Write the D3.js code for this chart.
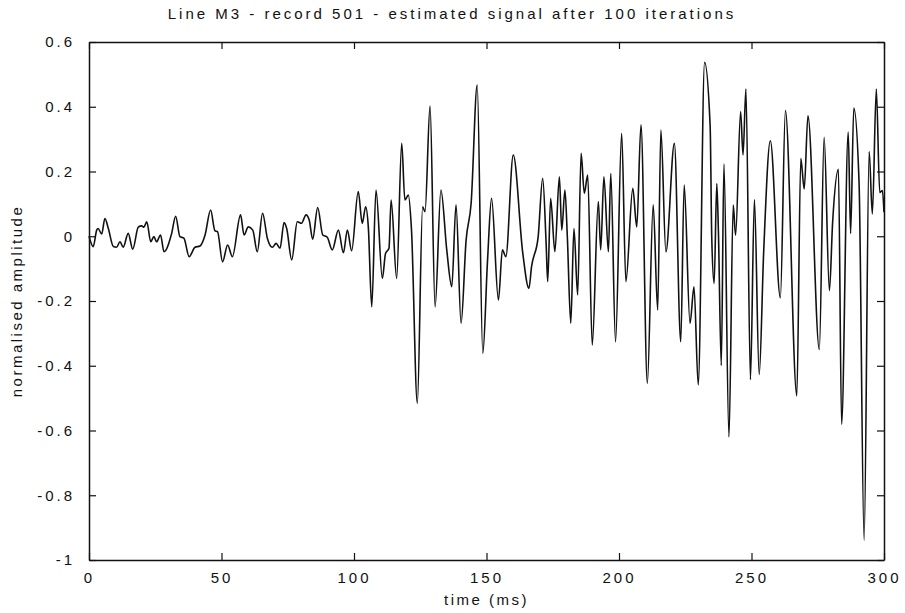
<!DOCTYPE html>
<html>
<head>
<meta charset="utf-8">
<script src="https://cdn.jsdelivr.net/npm/d3@7"></script>
<style>
  body { margin: 0; background: #fff; }
  svg text { font-family: Arial, "Liberation Sans", sans-serif; fill: #111; }
</style>
</head>
<body>
<script>
// signal, time in ms
const time = [
  0, 1.6, 2.9, 3.4, 4.8, 6.0, 7.3, 9.2, 10.4, 11.7, 12.9, 14.8, 16.5, 18.6, 19.9, 20.7,
  21.8, 23.3, 24.5, 25.5, 27.0, 28.3, 31.2, 32.7, 34.3, 35.8, 37.8, 40.0, 41.9, 43.8,
  45.9, 47.5, 48.5, 50.4, 52.3, 54.1, 57.2, 58.5, 60.1, 61.8, 63.5, 65.5, 67.3, 69.2,
  70.6, 72.1, 73.6, 74.6, 76.5, 78.6, 80.2, 81.9, 83.1, 84.4, 86.3, 88.2, 89.9, 91.8,
  94.1, 96.0, 97.5, 99.1,
  101.6, 103.1, 104.4, 105.4, 106.7, 108.3, 110.7, 111.9, 113.2, 114.0, 116.1, 118.0,
  119.2, 120.5, 121.7, 123.9, 125.9, 126.8, 128.7, 130.6, 132.8, 135.0, 136.9, 138.5,
  140.4, 142.3, 144.2, 146.5, 148.6, 150.4, 151.9, 154.5, 156.0, 157.3, 160.1, 163.7,
  166.0, 167.0, 169.5, 171.2, 172.5, 173.1, 174.2, 175.8, 177.5, 178.4, 179.6, 180.5,
  181.8, 183.0, 184.4, 185.7, 186.9, 188.2, 189.9, 192.2, 193.1, 194.3, 196.0, 196.9,
  198.7, 201.0, 202.6, 205.2, 206.7, 208.3, 210.7, 212.9, 214.6, 215.8, 217.7, 220.9,
  223.3, 224.6, 226.8, 228.3, 229.9, 232.3, 234.4, 235.0, 235.9,
  236.9, 237.5, 238.6, 239.6, 241.5, 243.1, 244.0, 245.9, 246.8, 247.9, 249.6, 251.1,
  252.9, 254.6, 257.1, 260.9, 262.8, 267.1, 268.6, 269.9, 271.3, 275.6, 277.4, 279.4,
  280.6, 282.8, 284.0, 286.5, 287.4, 288.6, 290.6, 292.5, 294.4, 295.6, 297.1, 298.4,
  299.4, 300.0
]
const amplitude = [
  0, -0.032, 0.019, 0.024, 0.007, 0.055, 0.024, -0.032, -0.034, -0.017, -0.034, 0.009, -0.040, 0.028, 0.032, 0.028,
  0.045, -0.017, -0.001, -0.017, 0.004, -0.048, 0.009, 0.062, -0.001, -0.006, -0.063, -0.034, -0.030, 0.004,
  0.081, 0.017, 0.014, -0.079, -0.027, -0.063, 0.066, 0.004, 0.029, 0.019, -0.048, 0.071, -0.006, -0.034,
  -0.022, -0.037, 0.042, 0.024, -0.073, 0.045, 0.040, 0.066, 0.050, -0.009, 0.089, 0.004, -0.003, -0.042,
  0.019, -0.051, 0.019, -0.045,
  0.138, 0.040, 0.091, 0.029, -0.218, 0.143, -0.130, -0.053, -0.037, 0.112, -0.130, 0.287,
  0.112, 0.127, 0.019, -0.516, 0.091, 0.076, 0.402, -0.218, 0.143, -0.042, -0.156, 0.097,
  -0.269, -0.012, 0.102, 0.467, -0.362, -0.073, 0.117, -0.197, -0.042, -0.063, 0.251, -0.053,
  -0.161, -0.094, -0.001, 0.179, -0.022, -0.140, 0.117, -0.048, 0.184, 0.019, 0.143, -0.001,
  -0.269, 0.024, -0.181, 0.256, 0.133, 0.189, -0.336, 0.107, -0.042, 0.184, -0.048, 0.194,
  -0.326, 0.318, -0.140, 0.148, 0.029, 0.344, -0.454, 0.097, -0.228, 0.328, -0.048, 0.287,
  -0.326, 0.158, -0.269, -0.156, -0.459, 0.537, 0.339, -0.003, -0.146,
  0.163, 0.019, -0.399, 0.223, -0.620, 0.096, 0.003, 0.385, 0.251, 0.455, -0.443, 0.113,
  -0.427, -0.047, 0.295, -0.190, 0.388, -0.493, 0.240, 0.146, 0.372, -0.350, 0.306, -0.168,
  0.041, 0.207, -0.581, 0.322, 0.008, 0.396, 0.163, -0.939, 0.262, 0.069, 0.455, 0.135,
  0.141, 0.074
]

const xTicks = [0, 50, 100, 150, 200, 250, 300]
const yTicks = [0.6, 0.4, 0.2, 0, -0.2, -0.4, -0.6, -0.8, -1]

const title = "Line M3 - record 501 - estimated signal after 100 iterations"
const xLabel = "time (ms)"
const yLabel = "normalised amplitude"

const W = 905, H = 613
const margin = {top: 42, right: 21, bottom: 53, left: 89}

const x = d3.scaleLinear().domain([0, 300]).range([margin.left, W - margin.right])
const y = d3.scaleLinear().domain([-1, 0.6]).range([H - margin.bottom, margin.top])

const svg = d3.select("body").append("svg")
    .attr("width", W)
    .attr("height", H)

const fmt = d => String(d)

// ticks point inward on all four sides
const axes = [
    {g: d3.axisBottom(x).tickValues(xTicks).tickFormat(fmt), at: `translate(0,${y(-1)})`, labels: true},
    {g: d3.axisTop(x).tickValues(xTicks), at: `translate(0,${y(0.6)})`, labels: false},
    {g: d3.axisLeft(y).tickValues(yTicks).tickFormat(fmt), at: `translate(${x(0)},0)`, labels: true},
    {g: d3.axisRight(y).tickValues(yTicks), at: `translate(${x(300)},0)`, labels: false},
]
axes.forEach((a, i) => {
    const g = svg.append("g")
        .attr("transform", a.at)
        .call(a.g.tickSizeInner(-7).tickSizeOuter(0).tickPadding(i == 0 ? 12 : 14))
    g.select(".domain").attr("stroke", "#111").attr("stroke-width", 1.5)
    g.selectAll(".tick line").attr("stroke", "#111").attr("stroke-width", 1.2)
    g.selectAll(".tick text")
        .attr("font-size", 15)
        .attr("letter-spacing", "3px")
        .attr("fill", "#111")
        .attr("font-family", "Arial, 'Liberation Sans', sans-serif")
    if (!a.labels) g.selectAll(".tick text").remove()
})

const line = d3.line()
    .x((d, i) => x(time[i]))
    .y(d => y(d))
    .curve(d3.curveMonotoneX)

svg.append("path")
    .datum(amplitude)
    .attr("fill", "none")
    .attr("stroke", "#111")
    .attr("stroke-width", 1.6)
    .attr("stroke-linejoin", "round")
    .attr("d", line)

// titles
svg.append("text")
    .attr("x", 452).attr("y", 19)
    .attr("text-anchor", "middle")
    .attr("font-size", 15)
    .attr("letter-spacing", "3px")
    .text(title)

svg.append("text")
    .attr("x", (x(0) + x(300)) / 2).attr("y", 605)
    .attr("text-anchor", "middle")
    .attr("font-size", 15)
    .attr("letter-spacing", "2.5px")
    .text(xLabel)

svg.append("text")
    .attr("transform", `translate(22,${(y(0.6) + y(-1)) / 2}) rotate(-90)`)
    .attr("text-anchor", "middle")
    .attr("font-size", 15)
    .attr("letter-spacing", "2.5px")
    .text(yLabel)
</script>
</body>
</html>
